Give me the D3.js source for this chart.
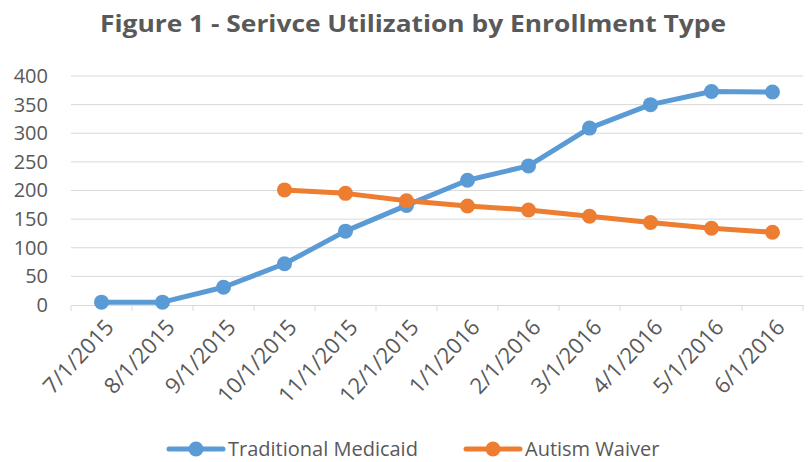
<!DOCTYPE html>
<html>
<head>
<meta charset="utf-8">
<script src="https://cdn.jsdelivr.net/npm/d3@7"></script>
<style>
  body { margin: 0; background: #fff; }
  svg { display: block; font-family: "Open Sans", sans-serif; }
</style>
</head>
<body>
<div id="chart"></div>
<script>
const months = ["7/1/2015", "8/1/2015", "9/1/2015", "10/1/2015", "11/1/2015", "12/1/2015",
  "1/1/2016", "2/1/2016", "3/1/2016", "4/1/2016", "5/1/2016", "6/1/2016"]
const traditionalMedicaid = [5, 5, 31, 72, 129, 174, 218, 243, 309, 350, 373, 372]
const autismWaiver = [null, null, null, 201, 195, 182, 173, 166, 155, 144, 134, 127]
const yTicks = [0, 50, 100, 150, 200, 250, 300, 350, 400]

const width = 809
const height = 462
const margin = { left: 71, right: 6, top: 76, bottom: 157 }

const svg = d3.select("#chart").append("svg")
  .attr("width", width)
  .attr("height", height)

const x = d3.scaleBand()
  .domain(months)
  .range([margin.left, width - margin.right])

const y = d3.scaleLinear()
  .domain([0, 400])
  .range([height - margin.bottom, margin.top])

// title
svg.append("text")
  .attr("x", 413)
  .attr("y", 32)
  .attr("text-anchor", "middle")
  .attr("font-size", "24px")
  .attr("font-weight", "bold")
  .attr("fill", "#595959")
  .attr("textLength", 626)
  .attr("lengthAdjust", "spacingAndGlyphs")
  .text("Figure 1 - Serivce Utilization by Enrollment Type")

// gridlines
svg.append("g")
  .selectAll("line")
  .data(yTicks.slice(1))
  .enter()
  .append("line")
  .attr("x1", margin.left)
  .attr("x2", width - margin.right)
  .attr("y1", d => y(d))
  .attr("y2", d => y(d))
  .attr("stroke", "#d9d9d9")
  .attr("stroke-width", 1)

// y axis labels
const yAxis = d3.axisLeft(y).tickValues(yTicks).tickSize(0).tickPadding(23)
svg.append("g")
  .attr("transform", `translate(${margin.left}, 0)`)
  .call(yAxis)
  .call(g => g.select(".domain").remove())
  .call(g => g.selectAll("text")
    .attr("font-family", "Open Sans, sans-serif")
    .attr("font-size", "20px")
    .attr("fill", "#595959"))

// x axis
const xAxis = d3.axisBottom(x).tickSize(0).tickSizeOuter(0)
const gx = svg.append("g")
  .attr("transform", `translate(0, ${y(0)})`)
  .call(xAxis)
gx.select(".domain").attr("stroke", "#d9d9d9")
gx.selectAll("text")
  .attr("font-family", "Open Sans, sans-serif")
  .attr("font-size", "22px")
  .attr("fill", "#595959")
  .attr("text-anchor", "end")
  .attr("y", 0)
  .attr("dy", "0.35em")
  .attr("transform", "translate(8, 18) rotate(-47)")

// tick marks at category boundaries
const bounds = months.map(m => x(m)).concat([width - margin.right])
svg.append("g")
  .selectAll("line")
  .data(bounds)
  .enter()
  .append("line")
  .attr("x1", d => d)
  .attr("x2", d => d)
  .attr("y1", y(0))
  .attr("y2", y(0) + 6)
  .attr("stroke", "#d9d9d9")

const series = [
  { name: "Traditional Medicaid", values: traditionalMedicaid, color: "#5B9BD5" },
  { name: "Autism Waiver", values: autismWaiver, color: "#ED7D31" },
]

const cx = m => x(m) + x.bandwidth() / 2

const line = d3.line()
  .defined(d => d.v !== null)
  .x(d => cx(d.m))
  .y(d => y(d.v))

series.forEach(s => {
  const pts = months.map((m, i) => ({ m, v: s.values[i] }))
  svg.append("path")
    .datum(pts)
    .attr("d", line)
    .attr("fill", "none")
    .attr("stroke", s.color)
    .attr("stroke-width", 5)
    .attr("stroke-linejoin", "round")
  svg.append("g")
    .selectAll("circle")
    .data(pts.filter(d => d.v !== null))
    .enter()
    .append("circle")
    .attr("cx", d => cx(d.m))
    .attr("cy", d => y(d.v))
    .attr("r", 7.5)
    .attr("fill", s.color)
})

// legend
const legendY = 449
const legendItems = [
  { x: 169, textX: 228, s: series[0] },
  { x: 466, textX: 525, s: series[1] },
]
const lg = svg.append("g")
legendItems.forEach(d => {
  lg.append("line")
    .attr("x1", d.x).attr("x2", d.x + 54)
    .attr("y1", legendY).attr("y2", legendY)
    .attr("stroke", d.s.color)
    .attr("stroke-width", 5)
    .attr("stroke-linecap", "round")
  lg.append("circle")
    .attr("cx", d.x + 27).attr("cy", legendY).attr("r", 7.5)
    .attr("fill", d.s.color)
  lg.append("text")
    .attr("x", d.textX).attr("y", legendY)
    .attr("dy", "0.35em")
    .attr("font-size", "20px")
    .attr("fill", "#595959")
    .text(d.s.name)
})
</script>
</body>
</html>
